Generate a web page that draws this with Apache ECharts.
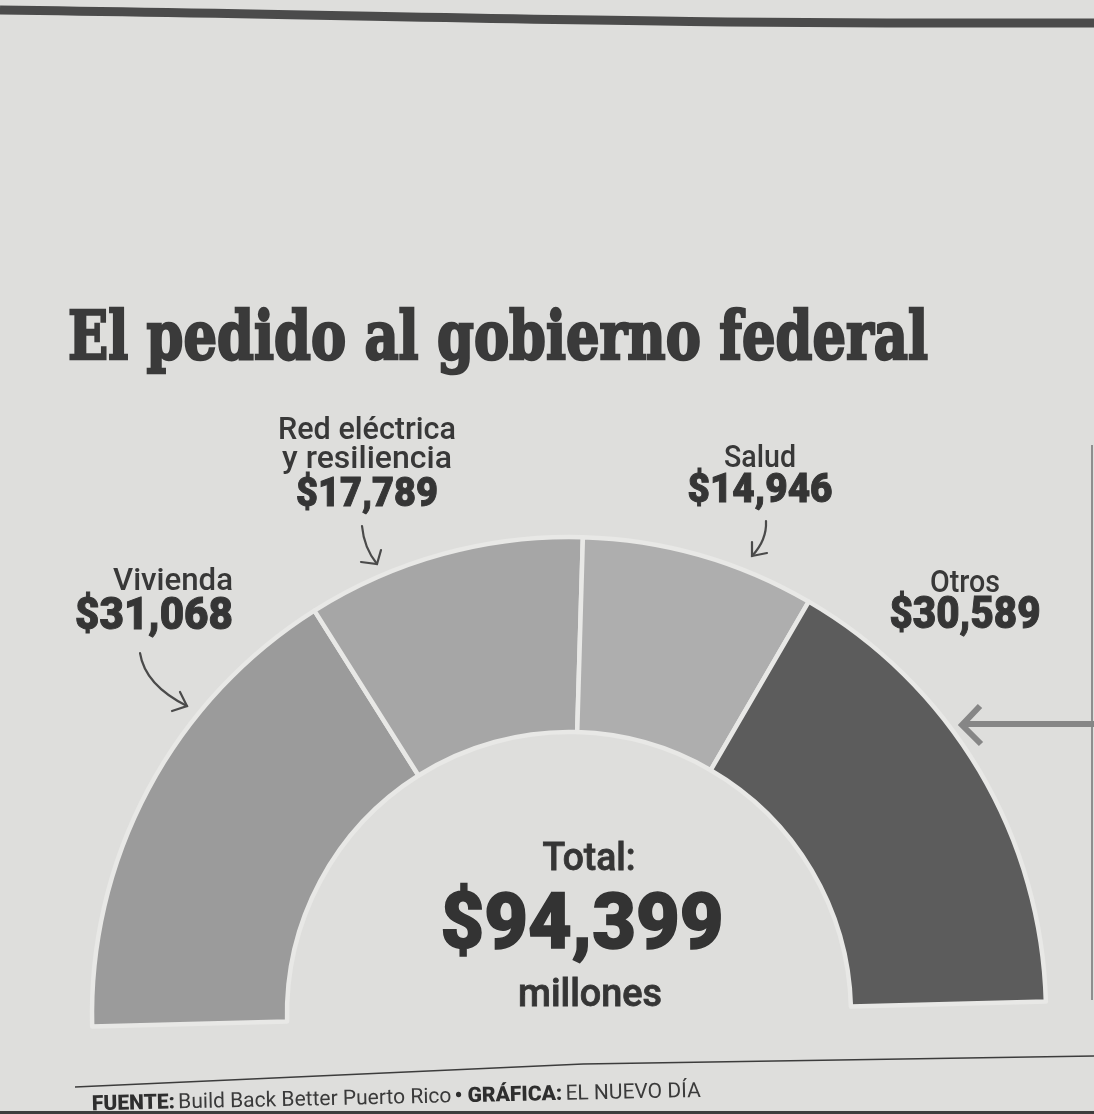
<!DOCTYPE html>
<html><head><meta charset="utf-8">
<script src="https://cdn.jsdelivr.net/npm/echarts@6/dist/echarts.min.js"></script>
<style>html,body{margin:0;padding:0;background:#dededc}#c{width:1094px;height:1114px}</style>
</head><body><div id="c"></div><script>
// ---- data ----
const titleText = 'El pedido al gobierno federal';
const categories = ['Vivienda', 'Red eléctrica\ny resiliencia', 'Salud', 'Otros'];
const values = [31068, 17789, 14946, 30589];
const sliceColors = ['#9b9b9b', '#a6a6a6', '#aeaeae', '#5c5c5c'];
const totalLabel = 'Total:';
const totalValue = 94399;
const totalUnit = 'millones';
const sourceParts = ['FUENTE:', 'Build Back Better Puerto Rico', 'GRÁFICA:', 'EL NUEVO DÍA'];

// ---- helpers ----
const fmt = v => '$' + v.toLocaleString('en-US');
const mctx = document.createElement('canvas').getContext('2d');
function fitScale(text, font, w) { mctx.font = font; return w / mctx.measureText(text).width; }
const INK = '#353535';
const NAME_FONT = 'Roboto,"Noto Sans",sans-serif';
const NUM_FONT = 'Roboto,"Noto Sans",sans-serif';

function txt(text, x, baseline, size, weight, family, align, width, fill, strokeW) {
  const font = weight + ' ' + size + 'px ' + family;
  const s = width ? fitScale(text, font, width) : 1;
  const st = { text: text, font: font, fill: fill || INK, textAlign: align, textVerticalAlign: 'middle' };
  if (strokeW) { st.stroke = fill || INK; st.lineWidth = strokeW; }
  return { type: 'text', x: x, y: baseline - size * 0.34, scaleX: s, silent: true, style: st };
}

// label layout per category (positions only)
const labelLayout = [
  { x: 233, align: 'right', nameBase: [593], nameW: [120], nameSize: 31, valBase: 633, valSize: 44, valW: 158 },
  { x: 367, align: 'center', nameBase: [442, 471], nameW: [178, 170], nameSize: 31, valBase: 510, valSize: 41, valW: 142 },
  { x: 760, align: 'center', nameBase: [470], nameW: [72], nameSize: 31, valBase: 506, valSize: 41, valW: 145 },
  { x: 965, align: 'center', nameBase: [595], nameW: [70], nameSize: 31, valBase: 632, valSize: 44, valW: 151 }
];

const graphics = [];
// top newspaper rule
graphics.push({ type: 'bezierCurve', silent: true, shape: { x1: 0, y1: 10, cpx1: 450, cpy1: 16, cpx2: 600, cpy2: 24, x2: 1094, y2: 23 },
  style: { stroke: '#4b4b4b', lineWidth: 9, fill: null } });
// right column edge
graphics.push({ type: 'line', silent: true, shape: { x1: 1092, y1: 445, x2: 1092, y2: 1000 },
  style: { stroke: '#8e8e8e', lineWidth: 2 } });
// title
graphics.push(txt(titleText, 68, 364, 67, 'bold', '"DejaVu Serif",serif', 'left', 860, '#3a3a3a', 2.6));

categories.forEach((name, i) => {
  const L = labelLayout[i];
  const lines = name.split('\n');
  lines.forEach((ln, k) => graphics.push(txt(ln, L.x, L.nameBase[k], L.nameSize, '500', NAME_FONT, L.align, L.nameW[k], '#383838')));
  graphics.push(txt(fmt(values[i]), L.x, L.valBase, L.valSize, '900', NUM_FONT, L.align, L.valW, '#353535', 1));
});

// arrows
const arrowStyle = { stroke: '#4a4a4a', lineWidth: 2.2, fill: null, lineCap: 'round' };
graphics.push({ type: 'bezierCurve', silent: true, shape: { x1: 140, y1: 653, cpx1: 145, cpy1: 685, x2: 187, y2: 706 }, style: arrowStyle });
graphics.push({ type: 'polyline', silent: true, shape: { points: [[172, 711], [187, 706], [180, 692]] }, style: arrowStyle });
graphics.push({ type: 'bezierCurve', silent: true, shape: { x1: 362, y1: 526, cpx1: 364, cpy1: 548, x2: 377, y2: 564 }, style: arrowStyle });
graphics.push({ type: 'polyline', silent: true, shape: { points: [[361, 562], [377, 564], [381, 550]] }, style: arrowStyle });
graphics.push({ type: 'bezierCurve', silent: true, shape: { x1: 766, y1: 521, cpx1: 767, cpy1: 540, x2: 752, y2: 556 }, style: arrowStyle });
graphics.push({ type: 'polyline', silent: true, shape: { points: [[752, 542], [752, 556], [767, 553]] }, style: arrowStyle });
const greyArrow = { stroke: '#868686', lineWidth: 6, fill: null };
graphics.push({ type: 'line', silent: true, shape: { x1: 966, y1: 724, x2: 1094, y2: 724 }, style: greyArrow });
graphics.push({ type: 'polyline', silent: true, shape: { points: [[980, 706], [962, 725], [981, 744]] }, style: greyArrow });

// center total
graphics.push(txt(totalLabel, 589, 874, 39, '500', NUM_FONT, 'center', 93, '#353535', 0.8));
graphics.push(txt(fmt(totalValue), 582, 955, 77, '900', NUM_FONT, 'center', 283, '#333333', 1.5));
graphics.push(txt(totalUnit, 590, 1009, 38, '500', NUM_FONT, 'center', 144, '#353535', 0.8));

// footer
graphics.push({ type: 'polyline', silent: true, shape: { points: [[75, 1087], [583, 1064], [1094, 1056]] },
  style: { stroke: '#3c3c3c', lineWidth: 1.5, fill: null } });
graphics.push({
  type: 'text', silent: true, x: 92, y: 1105, rotation: 0.022,
  style: {
    text: '{b|' + sourceParts[0] + '} {r|' + sourceParts[1] + '} {b|• ' + sourceParts[2] + '} {r|' + sourceParts[3] + '}',
    textVerticalAlign: 'middle', textAlign: 'left',
    rich: {
      b: { font: '900 21px ' + NUM_FONT, fill: '#2e2e2e' },
      r: { font: 'normal 21px ' + NAME_FONT, fill: '#3a3a3a' }
    }
  }
});
graphics.push({ type: 'rect', silent: true, shape: { x: 0, y: 1111, width: 1094, height: 3 }, style: { fill: '#3e3e3e' } });

const chart = echarts.init(document.getElementById('c'), null, { renderer: 'canvas' });
chart.setOption({
  backgroundColor: '#dededc',
  animation: false,
  series: [{
    type: 'pie',
    center: [569, 1014],
    radius: [282, 477],
    startAngle: 181.5,
    endAngle: 1.5,
    clockwise: true,
    silent: true,
    label: { show: false },
    labelLine: { show: false },
    itemStyle: { borderColor: '#e8e8e6', borderWidth: 4.5 },
    data: categories.map((c, i) => ({ name: c, value: values[i], itemStyle: { color: sliceColors[i] } }))
  }],
  graphic: graphics
});
</script></body></html>
